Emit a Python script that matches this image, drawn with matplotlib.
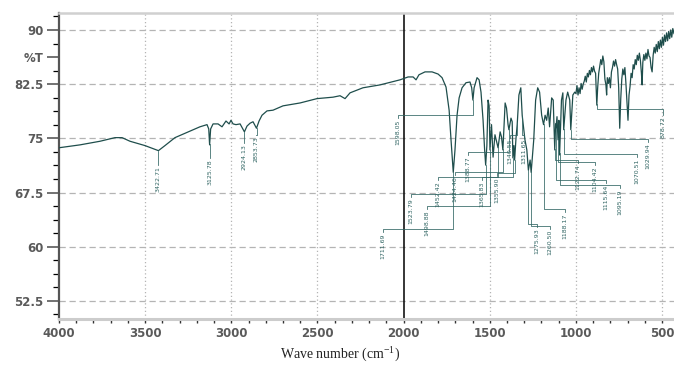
import numpy as np
import matplotlib
matplotlib.use('Agg')
from matplotlib import pyplot as plt

# IR spectrum (wave number in cm-1, %T)
wavenumber = [4000, 3878, 3762, 3675, 3634, 3588, 3501, 3423, 3385, 3327, 3240, 3182,
              3141, 3131, 3126, 3120, 3106, 3077, 3054, 3031, 3013, 3002, 2990, 2973,
              2949, 2924, 2909, 2891, 2874, 2854, 2839, 2822, 2793, 2758, 2700, 2601,
              2503, 2410, 2369, 2340, 2311, 2236, 2137, 2021, 1974, 1945, 1928, 1911,
              1876, 1835, 1800, 1777, 1754, 1736, 1725, 1712, 1702, 1690, 1678, 1661,
              1638, 1615, 1605, 1598, 1591, 1574, 1562, 1551, 1539, 1530, 1524, 1517,
              1510, 1504, 1499, 1490, 1481, 1470, 1452, 1440, 1432, 1424, 1411, 1403,
              1394, 1389, 1377, 1370, 1366, 1360, 1356, 1348, 1341, 1331, 1320, 1312,
              1296, 1285, 1276, 1266, 1260, 1245, 1234, 1222, 1211, 1199, 1188, 1179,
              1170, 1161, 1153, 1141, 1132, 1123, 1118, 1116, 1110, 1104, 1099, 1095,
              1084, 1076, 1071, 1058, 1048, 1036, 1030, 1018, 1007,
              1000, 994, 988, 982, 976, 970, 964, 958, 952, 946, 940, 934, 928, 922,
              916, 910, 904, 898, 892, 886, 879, 874, 868, 862, 856, 850, 844, 838,
              832, 826, 822, 818, 812, 806, 800, 794, 788, 782, 776, 770, 764, 758,
              752, 746, 740, 734, 728, 722, 716, 710, 704, 698, 692, 686, 680, 674,
              668, 662, 656, 650, 644, 638, 632, 626, 620, 616, 612, 606, 600, 594,
              588, 582, 576, 570, 564, 558, 552, 546, 540, 534, 528, 522, 516, 510,
              504, 498, 492, 486, 480, 474, 468, 462, 456, 450, 444, 438, 431]
transmittance = [73.7, 74.1, 74.6, 75.1, 75.1, 74.6, 74.0, 73.3, 74.0, 75.1, 76.0, 76.6,
                 76.9, 76.3, 74.1, 76.3, 77.0, 77.0, 76.6, 77.4, 77.0, 77.5, 77.0, 76.9,
                 77.0, 75.9, 76.7, 77.1, 77.3, 76.4, 77.4, 78.2, 78.8, 78.9, 79.5, 79.9,
                 80.5, 80.7, 80.9, 80.5, 81.3, 82.0, 82.4, 83.1, 83.5, 83.5, 83.1, 83.8,
                 84.2, 84.2, 83.9, 83.4, 82.1, 78.9, 74.8, 70.3, 73.4, 78.2, 80.6, 82.0,
                 82.7, 82.8, 82.0, 80.3, 82.0, 83.4, 83.1, 81.4, 77.5, 73.4, 71.3, 74.0,
                 80.3, 79.5, 73.4, 76.9, 72.4, 75.5, 73.7, 75.9, 75.2, 73.4, 79.9, 79.2,
                 76.9, 76.2, 77.8, 77.3, 72.3, 74.0, 72.0, 75.0, 76.9, 81.0, 82.0, 78.2,
                 74.8, 73.4, 70.6, 72.0, 70.3, 74.8, 80.3, 82.0, 81.4, 78.2, 76.9, 78.2,
                 77.5, 79.2, 76.6, 80.6, 80.3, 73.4, 77.0, 76.4, 78.0, 74.8, 77.5, 72.7,
                 80.3, 81.3, 76.2, 80.3, 81.4, 80.3, 76.2, 81.0, 81.4,
                 81.2, 82.3, 81.0, 82.0, 81.2, 82.6, 81.8, 82.5, 82.9, 83.6, 82.8, 84.0,
                 83.5, 84.4, 83.8, 84.8, 84.2, 85.0, 84.3, 84.0, 79.6, 82.0, 84.0, 85.0,
                 85.9, 85.2, 86.4, 85.6, 83.2, 82.4, 81.0, 83.4, 82.6, 83.4, 82.0, 84.2,
                 84.8, 85.7, 85.0, 85.9, 85.2, 84.6, 82.0, 76.4, 80.5, 83.2, 84.6, 83.8,
                 84.8, 82.6, 80.0, 77.5, 81.0, 82.2, 84.0, 83.4, 85.2, 84.6, 85.9, 85.2,
                 86.5, 85.8, 86.8, 85.8, 84.0, 82.4, 85.5, 86.6, 85.8, 86.8, 86.0, 87.3,
                 86.4, 86.2, 84.8, 84.2, 86.5, 87.6, 86.8, 88.0, 87.0, 88.4, 87.4, 88.6,
                 87.6, 89.0, 87.9, 89.3, 88.4, 89.6, 88.5, 89.8, 88.8, 90.0, 89.0, 90.2, 89.5]

# peak labels
peak_labels = ['3422.71', '3125.78', '2924.13', '2853.73', '1598.05', '1711.69',
               '1523.79', '1498.88', '1452.42', '1424.46', '1388.77', '1365.83',
               '1355.90', '1340.55', '1311.65', '1275.93', '1260.50', '1188.17',
               '1122.74', '1104.42', '1115.64', '1095.19', '1070.51', '1029.94', '878.72']
# where each label sits (x in cm-1, top in %T) and the level of its leader line
label_x = [3423, 3126, 2924, 2854, 2032, 2120, 1957, 1864, 1800, 1702, 1626, 1545,
           1458, 1382, 1301, 1226, 1150, 1063, 988, 889, 825, 744, 645, 581, 494]
label_top = [71.3, 72.3, 74.4, 75.5, 77.8, 62.0, 66.9, 65.2, 69.2, 69.9, 72.7, 69.2,
             69.8, 75.1, 75.1, 62.7, 62.5, 64.8, 71.6, 71.3, 68.8, 68.1, 72.4, 74.5, 78.2]
label_bend = [71.3, 72.3, 74.4, 75.5, 78.2, 62.4, 67.3, 65.6, 69.6, 70.3, 73.1, 69.6,
              70.2, 75.5, 75.5, 63.2, 62.9, 65.2, 72.0, 71.7, 69.2, 68.5, 72.8, 74.9, 79.0]

x_ticks = [4000, 3500, 3000, 2500, 2000, 1500, 1000, 500]
y_ticks = [52.5, 60, 67.5, 75, 82.5, 86.25, 90]
y_tick_labels = ['52.5', '60', '67.5', '75', '82.5', '%T', '90']

plt.rcParams['mathtext.fontset'] = 'custom'
plt.rcParams['mathtext.rm'] = 'Liberation Serif'

line_color = '#1f4e4c'
label_color = '#2f6462'
fig = plt.figure(figsize=(6.74, 3.65), dpi=100)
ax = fig.add_axes([59 / 674, 46 / 365, 615 / 674, 306 / 365])

for y in [52.5, 60, 67.5, 75, 82.5, 90]:
    ax.axhline(y, color='#b4b4b4', lw=0.9, ls=(0, (5, 3)), zorder=1)
for x in [3500, 3000, 2500, 1500, 1000, 500]:
    ax.axvline(x, color='#b4b4b4', lw=0.9, ls=(0, (1, 2)), zorder=1)
ax.axvline(2000, color='black', lw=1.1, zorder=2)

ax.plot(wavenumber, transmittance, color=line_color, lw=0.9, zorder=3)

wn_asc = np.array(wavenumber, dtype=float)[::-1]
t_asc = np.array(transmittance)[::-1]
for text, lx, top, bend in zip(peak_labels, label_x, label_top, label_bend):
    pk = float(text)
    pt = np.interp(pk, wn_asc, t_asc)
    ax.plot([pk, pk, lx, lx], [pt, bend, bend, top], color=label_color, lw=0.55, zorder=3)
    ax.text(lx, top - 0.15, text, rotation=90, ha='center', va='top',
            fontsize=4.5, color=label_color, zorder=4)

ax.set_xlim(4000, 431)
ax.set_ylim(50.0, 92.35)
ax.set_xticks(x_ticks)
ax.set_xticks(np.arange(4000, 430, -100), minor=True)
ax.set_yticks(y_ticks)
ax.set_yticklabels(y_tick_labels)
ax.set_yticks(np.arange(50.625, 92.4, 1.875), minor=True)

ax.tick_params(axis='both', colors='#5a5a5a', labelcolor='#5a5a5a', labelsize=8.5)
ax.tick_params(axis='y', which='major', length=9, width=1.2, pad=2)
ax.tick_params(axis='y', which='minor', length=4.5, width=0.9)
ax.tick_params(axis='x', which='both', length=3, width=1.0, pad=2.5, color='#333333')
for lab in ax.get_xticklabels() + ax.get_yticklabels():
    lab.set_fontweight('bold')

ax.spines['left'].set_color('#555555')
ax.spines['left'].set_linewidth(1.6)
ax.spines['top'].set_color('#d0d0d0')
ax.spines['top'].set_linewidth(1.8)
ax.spines['bottom'].set_color('#cccccc')
ax.spines['bottom'].set_linewidth(2.2)
ax.spines['right'].set_visible(False)

fig.text(340 / 674, 1 - 354 / 365, r'Wave number (cm$^{-1}$)', ha='center', va='center',
         family='Liberation Serif', fontsize=10, color='#222222')

fig.savefig('out.png', dpi=100)
